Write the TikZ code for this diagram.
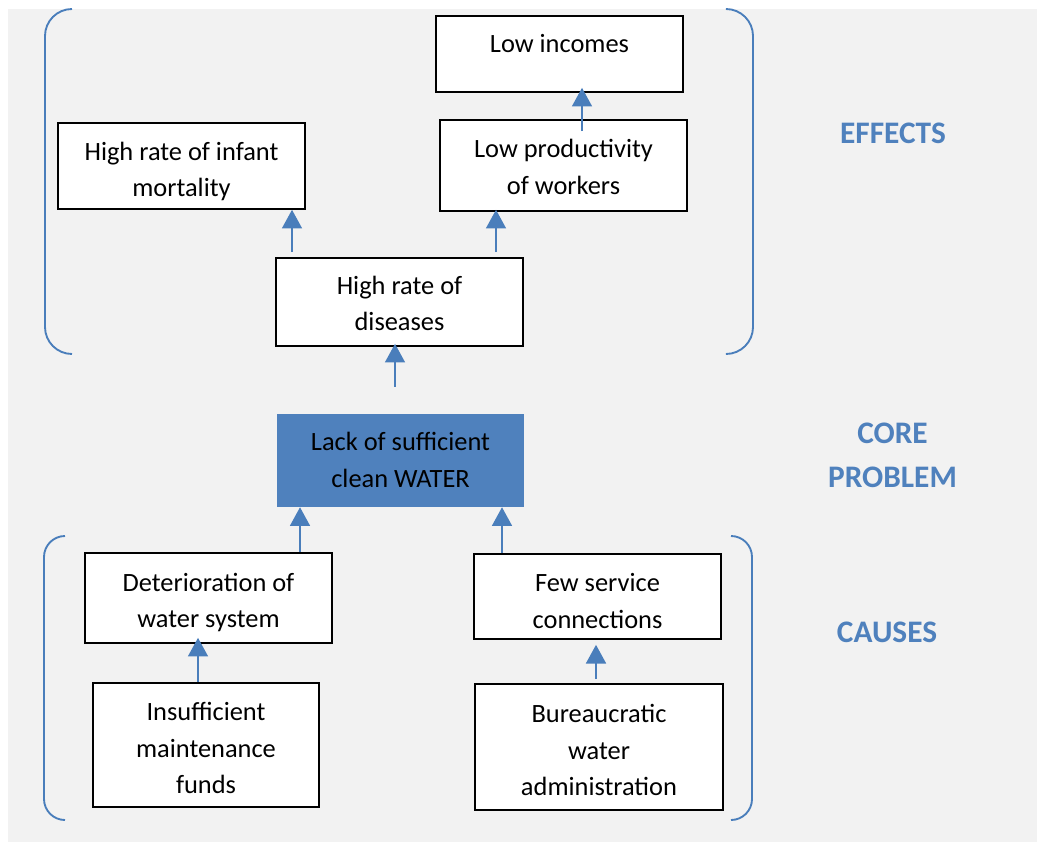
\documentclass[tikz,border=0pt]{standalone}
\usepackage{fontspec}
\setmainfont{Carlito}
\usetikzlibrary{arrows.meta}

\definecolor{panel}{HTML}{F2F2F2}
\definecolor{accent}{HTML}{4F81BD}
\definecolor{linkblue}{HTML}{4A7EBB}

% first-line height and last-line depth, so the text blocks sit evenly
\newcommand\topstrut[1][22.2pt]{\rule{0pt}{#1}}
\newcommand\botstrut{\rule[-8.2pt]{0pt}{8.2pt}}

\begin{document}
\begin{tikzpicture}[
    x=0.75pt, y=-0.75pt,
    box/.style={draw=black, line width=1.2pt, fill=white, align=center,
      inner sep=0pt, font=\fontsize{19.8}{27.4}\selectfont},
    coreblock/.style={fill=accent, align=center, inner sep=0pt,
      font=\fontsize{19.8}{27.4}\selectfont},
    arr/.style={draw=linkblue, line width=1.2pt,
      -{Triangle[width=15pt,length=14pt]}},
    bracket/.style={draw=linkblue, line width=1.4pt},
    head/.style={text=accent, align=center,
      font=\bfseries\fontsize{23.5}{33}\selectfont},
  ]
  \useasboundingbox (0,0) rectangle (1037,842);
  \fill[panel] (8,9) rectangle (1037,842);

  % effects
  \node[box, minimum width={247*0.75pt}, minimum height={76*0.75pt}] (inc) at (559.5,54) {};
  \node[font=\fontsize{19.8}{27.4}\selectfont] (inctext) at (559.5,44) {Low incomes};
  \node[box, minimum width={247*0.75pt}, minimum height={86*0.75pt}] (inf) at (181.5,166) {\topstrut[26.7pt]High rate of infant\\mortality\botstrut};
  \node[box, minimum width={247*0.75pt}, minimum height={91*0.75pt}] (lp) at (563.5,165.5) {\topstrut[23.7pt]Low productivity\\of workers\botstrut};
  \node[box, minimum width={247*0.75pt}, minimum height={88*0.75pt}] (dis) at (399.5,302) {\topstrut[23.7pt]High rate of\\diseases\botstrut};

  % core problem
  \node[coreblock, minimum width={247*0.75pt}, minimum height={93*0.75pt}] (core) at (400.5,460.5) {\topstrut[20.7pt]Lack of sufficient\\clean WATER\botstrut};

  % causes
  \node[box, minimum width={247*0.75pt}, minimum height={90*0.75pt}] (det) at (208.5,598) {\topstrut[25.2pt]Deterioration of\\water system\botstrut};
  \node[box, minimum width={247*0.75pt}, minimum height={85*0.75pt}] (few) at (597.5,596.5) {\topstrut[28.2pt]Few service\\connections\botstrut};
  \node[box, minimum width={226*0.75pt}, minimum height={124*0.75pt}] (ins) at (206,745) {\topstrut[26.7pt]Insufficient\\maintenance\\funds\botstrut};
  \node[box, minimum width={248*0.75pt}, minimum height={126*0.75pt}] (bur) at (599,747) {\topstrut[26.7pt]Bureaucratic\\water\\administration\botstrut};

  % arrow columns
  \coordinate (c1) at (582,0);
  \coordinate (c2) at (292,0);
  \coordinate (c3) at (496,0);
  \coordinate (c4) at (395,0);
  \coordinate (c5) at (300,0);
  \coordinate (c6) at (502,0);
  \coordinate (c7) at (198,0);
  \coordinate (c8) at (596,0);

  \draw[arr, shorten <=-9pt, shorten >=-3.75pt] (lp.north -| c1) -- (inc.south -| c1);
  \draw[arr, shorten <=3.75pt] (dis.north -| c2) -- (inf.south -| c2);
  \draw[arr, shorten <=3.75pt, shorten >=-1.5pt] (dis.north -| c3) -- (lp.south -| c3);
  \draw[arr, shorten <=20.25pt, shorten >=-2.25pt] (core.north -| c4) -- (dis.south -| c4);
  \draw[arr] (det.north -| c5) -- (core.south -| c5);
  \draw[arr] (few.north -| c6) -- (core.south -| c6);
  \draw[arr, shorten >=-4.5pt] (ins.north -| c7) -- (det.south -| c7);
  \draw[arr, shorten <=3pt, shorten >=3.75pt] (bur.north -| c8) -- (few.south -| c8);

  % brackets
  \coordinate (eTL) at (72,9);   \coordinate (eBL) at (72,354);
  \coordinate (eTR) at (727,9);  \coordinate (eBR) at (727,354);
  \coordinate (kTL) at (65,536); \coordinate (kBL) at (65,820);
  \coordinate (kTR) at (731,536);\coordinate (kBR) at (731,820);
  \draw[bracket, rounded corners=20.25pt] (eTL) -- (45,9) -- (45,354) -- (eBL);
  \draw[bracket, rounded corners=20.25pt] (eTR) -- (753,9) -- (753,354) -- (eBR);
  \draw[bracket, rounded corners=15.75pt] (kTL) -- (44,536) -- (44,820) -- (kBL);
  \draw[bracket, rounded corners=15.75pt] (kTR) -- (752,536) -- (752,820) -- (kBR);

  % headings
  \node[head] (heff) at (893,133) {EFFECTS};
  \node[head] (hcore) at (892.5,455.5) {CORE\\PROBLEM};
  \node[head] (hcau) at (887,632) {CAUSES};
\end{tikzpicture}
\end{document}
